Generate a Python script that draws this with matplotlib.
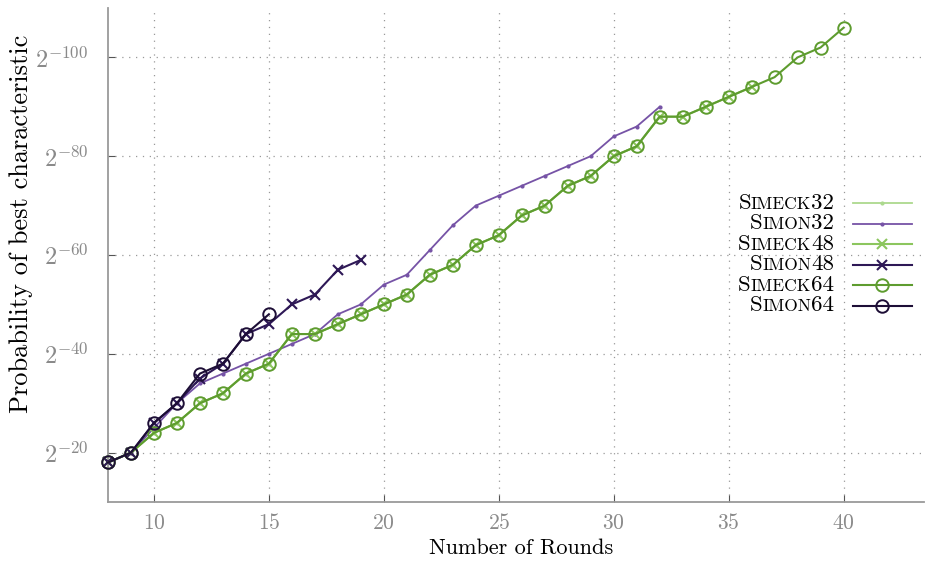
import matplotlib
matplotlib.use("Agg")
import matplotlib.pyplot as plt
from matplotlib.lines import Line2D
from matplotlib.offsetbox import TextArea, HPacker, AnchoredOffsetbox

plt.rcParams['font.family'] = ['cmr10', 'DejaVu Serif']
plt.rcParams['mathtext.fontset'] = 'cm'
plt.rcParams['axes.unicode_minus'] = False
plt.rcParams['axes.formatter.use_mathtext'] = True

# -log2 of the probability of the best characteristic, per round
simeck32_rounds = list(range(8, 33))
simeck32_w = [18, 20, 24, 26, 30, 32, 36, 38, 44, 44, 46, 48, 50, 52, 56, 58,
              62, 64, 68, 70, 74, 76, 80, 82, 88]
simon32_rounds = list(range(8, 33))
simon32_w = [18, 20, 25, 30, 34, 36, 38, 40, 42, 44, 48, 50, 54, 56, 61, 66,
             70, 72, 74, 76, 78, 80, 84, 86, 90]
simeck48_rounds = list(range(8, 37))
simeck48_w = [18, 20, 24, 26, 30, 32, 36, 38, 44, 44, 46, 48, 50, 52, 56, 58,
              62, 64, 68, 70, 74, 76, 80, 82, 88, 88, 90, 92, 94]
simon48_rounds = list(range(8, 20))
simon48_w = [18, 20, 26, 30, 35, 38, 44, 46, 50, 52, 57, 59]
simeck64_rounds = list(range(8, 41))
simeck64_w = [18, 20, 24, 26, 30, 32, 36, 38, 44, 44, 46, 48, 50, 52, 56, 58,
              62, 64, 68, 70, 74, 76, 80, 82, 88, 88, 90, 92, 94, 96, 100, 102, 106]
simon64_rounds = list(range(8, 16))
simon64_w = [18, 20, 26, 30, 36, 38, 44, 48]

names = [("S", "IMECK", "32"), ("S", "IMON", "32"), ("S", "IMECK", "48"),
         ("S", "IMON", "48"), ("S", "IMECK", "64"), ("S", "IMON", "64")]
yticks = [20, 40, 60, 80, 100]
xticks = [10, 15, 20, 25, 30, 35, 40]

colors = ['#acd98e', '#7653a6', '#8cc65e', '#2e1856', '#5e9c2f', '#1d0e36']
styles = [
    dict(marker='.', markersize=4, lw=1.3),
    dict(marker='.', markersize=4, lw=1.3),
    dict(marker='x', markersize=7, mew=1.5, lw=1.5),
    dict(marker='x', markersize=7, mew=1.5, lw=1.5),
    dict(marker='o', markersize=9, mew=1.4, lw=1.5, fillstyle='none'),
    dict(marker='o', markersize=9, mew=1.4, lw=1.5, fillstyle='none'),
]
series = [(simeck32_rounds, simeck32_w), (simon32_rounds, simon32_w),
          (simeck48_rounds, simeck48_w), (simon48_rounds, simon48_w),
          (simeck64_rounds, simeck64_w), (simon64_rounds, simon64_w)]

fig = plt.figure(figsize=(9.25, 5.61), dpi=100)
ax = fig.add_axes([108 / 925, 1 - 502 / 561, 816 / 925, 494 / 561])

for (xs, ys), c, st in zip(series, colors, styles):
    ax.plot(xs, ys, color=c, clip_on=False, zorder=3, **st)

ax.set_xlim(8, 43.5)
ax.set_ylim(10, 110)
ax.set_xticks(xticks)
ax.set_yticks(yticks)
ax.set_yticklabels(['$2^{-%d}$' % v for v in yticks])
ax.tick_params(direction='in', length=5, width=0.8, color='#555555',
               labelcolor='#8a8a8a')
ax.tick_params(axis='y', pad=14, labelsize=17.5)
ax.tick_params(axis='x', pad=8, labelsize=15.5)
ax.grid(True, color='#999999', linestyle=(0, (1, 4.5)), lw=0.9)
for s in ['top', 'right']:
    ax.spines[s].set_visible(False)
for s in ['left', 'bottom']:
    ax.spines[s].set_color('#9a9a9a')
    ax.spines[s].set_linewidth(1.3)

ax.set_xlabel('Number of Rounds', fontsize=16)
ax.set_ylabel('Probability of best characteristic', fontsize=19)
ax.xaxis.set_label_coords(0.506, -0.074)
ax.yaxis.set_label_coords(-0.092, 0.562)

# small caps legend
row_y = [203, 223.5, 244, 264.5, 285, 305.5]
for (a, b, n), c, st, py in zip(names, colors, styles, row_y):
    parts = [TextArea(a, textprops=dict(fontsize=16.5)),
             TextArea(b, textprops=dict(fontsize=12.5)),
             TextArea(n, textprops=dict(fontsize=16.5))]
    box = HPacker(children=parts, align='baseline', pad=0, sep=0)
    ab = AnchoredOffsetbox(loc='center right', child=box, pad=0, borderpad=0,
                           frameon=False,
                           bbox_to_anchor=(834 / 925, 1 - py / 561),
                           bbox_transform=fig.transFigure)
    fig.add_artist(ab)
    yy = 1 - py / 561
    fig.add_artist(Line2D([853 / 925, 912 / 925], [yy, yy], color=c,
                          lw=st['lw'], transform=fig.transFigure))
    mk = {k: v for k, v in st.items() if k != 'lw'}
    fig.add_artist(Line2D([882 / 925], [yy], color=c, linestyle='none',
                          transform=fig.transFigure, **mk))

fig.savefig('out.png', dpi=100)
